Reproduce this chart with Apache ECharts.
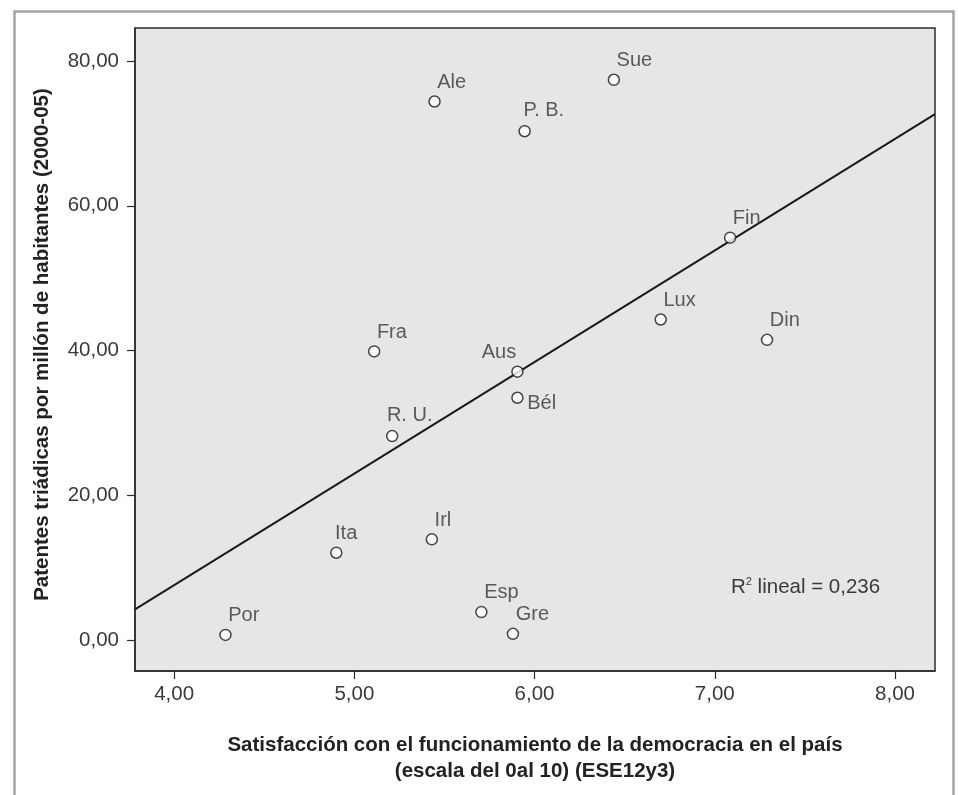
<!DOCTYPE html>
<html>
<head>
<meta charset="utf-8">
<script src="https://cdn.jsdelivr.net/npm/echarts@6/dist/echarts.min.js"></script>
<style>
  html, body { margin: 0; padding: 0; background: #fff; }
  #chart { width: 958px; height: 795px; }
</style>
</head>
<body>
<div id="chart"></div>
<script>
    // país, satisfacción con la democracia (0-10), patentes triádicas por millón (2000-05)
    var countries = ['Por', 'Ita', 'Irl', 'R. U.', 'Fra', 'Ale', 'P. B.', 'Sue', 'Fin', 'Lux', 'Din', 'Aus', 'Bél', 'Esp', 'Gre'];
    var satisfaction = [4.285, 4.90, 5.43, 5.21, 5.11, 5.445, 5.945, 6.44, 7.085, 6.70, 7.29, 5.905, 5.905, 5.705, 5.88];
    var patents = [0.75, 12.1, 13.95, 28.2, 39.9, 74.4, 70.3, 77.4, 55.6, 44.3, 41.5, 37.1, 33.5, 3.9, 0.9];

    var xTicks = [4, 5, 6, 7, 8];
    var yTicks = [0, 20, 40, 60, 80];
    var xRange = [3.783, 8.222];
    var yRange = [-4.23, 84.55];
    var r2Text = '0,236';

    // where a label sits next to its point, when not the usual up-right spot
    var labelSpots = {
        'Aus': { position: [5, -13], align: 'right' },
        'Bél': { position: [16, 12], align: 'left' },
        'R. U.': { position: [1, -14], align: 'left' },
        'P. B.': { position: [5, -14], align: 'left' },
        'Ita': { position: [5, -13], align: 'left' }
    };

    // least squares line y = a + b x from the points
    function linearFit(xs, ys) {
        var n = xs.length, mx = 0, my = 0;
        for (var i = 0; i < n; i++) { mx += xs[i]; my += ys[i]; }
        mx /= n; my /= n;
        var sxy = 0, sxx = 0;
        for (var i = 0; i < n; i++) {
            sxy += (xs[i] - mx) * (ys[i] - my);
            sxx += (xs[i] - mx) * (xs[i] - mx);
        }
        var b = sxy / sxx;
        return { a: my - b * mx, b: b };
    }

    var fit = linearFit(satisfaction, patents);
    var fitLine = [
        [xRange[0], fit.a + fit.b * xRange[0]],
        [xRange[1], fit.a + fit.b * xRange[1]]
    ];

    var points = [];
    for (var i = 0; i < countries.length; i++) {
        var item = { name: countries[i], value: [satisfaction[i], patents[i]] };
        if (labelSpots[countries[i]]) {
            item.label = labelSpots[countries[i]];
        }
        points.push(item);
    }

    var fontFamily = '"Liberation Sans", Arial, sans-serif';
    function comma(v) {
        return v.toFixed(2).replace('.', ',');
    }

    var chart = echarts.init(document.getElementById('chart'));
    chart.setOption({
        animation: false,
        backgroundColor: '#ffffff',
        textStyle: { fontFamily: fontFamily },
        grid: {
            left: 135, top: 28, right: 23, bottom: 124,
            show: true,
            backgroundColor: '#e5e6e8',
            borderColor: '#2b2b2b',
            borderWidth: 1.5
        },
        xAxis: {
            type: 'value',
            min: xRange[0],
            max: xRange[1],
            name: 'Satisfacción con el funcionamiento de la democracia en el país\n(escala del 0al 10) (ESE12y3)',
            nameLocation: 'middle',
            nameGap: 61,
            nameTextStyle: {
                fontSize: 20.5, fontWeight: 'bold', color: '#222', lineHeight: 26,
                fontFamily: fontFamily
            },
            splitLine: { show: false },
            axisLine: { show: true, onZero: false, lineStyle: { color: '#2b2b2b', width: 1.5 } },
            axisTick: { show: true, length: 8, customValues: xTicks, lineStyle: { color: '#2b2b2b', width: 1.2 } },
            axisLabel: {
                customValues: xTicks,
                margin: 13,
                fontSize: 20.5,
                color: '#3a3a3a',
                formatter: comma
            }
        },
        yAxis: {
            type: 'value',
            min: yRange[0],
            max: yRange[1],
            name: 'Patentes triádicas por millón de habitantes (2000-05)',
            nameLocation: 'middle',
            nameRotate: 90,
            nameGap: 82,
            nameTextStyle: {
                fontSize: 20.5, fontWeight: 'bold', color: '#222',
                fontFamily: fontFamily,
                padding: [0, 0, 0, 10]
            },
            splitLine: { show: false },
            axisLine: { show: true, onZero: false, lineStyle: { color: '#2b2b2b', width: 1.5 } },
            axisTick: { show: true, length: 8, customValues: yTicks, lineStyle: { color: '#2b2b2b', width: 1.2 } },
            axisLabel: {
                customValues: yTicks,
                margin: 16,
                fontSize: 20.5,
                color: '#3a3a3a',
                formatter: comma
            }
        },
        series: [
            {
                type: 'line',
                data: fitLine,
                symbol: 'none',
                z: 2,
                lineStyle: { color: '#1a1a1a', width: 2 },
                silent: true
            },
            {
                type: 'scatter',
                data: points,
                symbol: 'circle',
                symbolSize: 11,
                z: 3,
                itemStyle: { color: '#ffffff', borderColor: '#1a1a1a', borderWidth: 1.5 },
                label: {
                    show: true,
                    formatter: '{b}',
                    position: [9, -13],
                    align: 'left',
                    verticalAlign: 'middle',
                    fontSize: 20,
                    color: '#363636'
                }
            }
        ],
        graphic: [
            {
                type: 'rect',
                left: 12, top: 9,
                shape: { width: 939, height: 820 },
                style: { fill: 'none', stroke: '#a4a4a4', lineWidth: 2.5 },
                silent: true
            },
            {
                type: 'text',
                left: 731,
                top: 576,
                style: {
                    text: 'R{sup|2} lineal = ' + r2Text,
                    fontSize: 20.5,
                    fill: '#3a3a3a',
                    fontFamily: fontFamily,
                    rich: {
                        sup: { fontSize: 11, verticalAlign: 'top', padding: [0, 0, 12, 0], fill: '#3a3a3a' }
                    }
                }
            }
        ]
    });
</script>
</body>
</html>
